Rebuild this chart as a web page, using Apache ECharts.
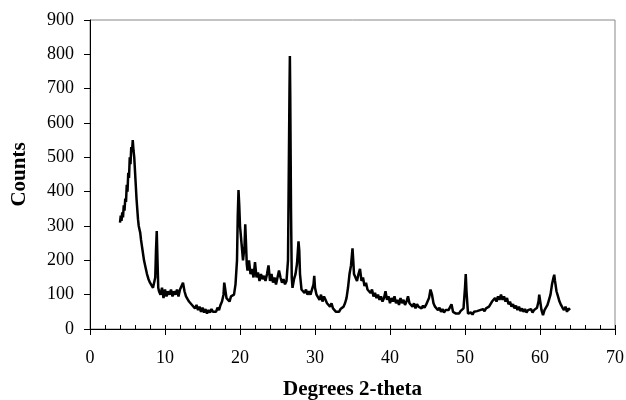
<!DOCTYPE html>
<html>
<head>
<meta charset="utf-8">
<script src="https://cdn.jsdelivr.net/npm/echarts@6/dist/echarts.min.js"></script>
<style>html,body{margin:0;padding:0;background:#fff;}#c{width:626px;height:400px;}</style>
</head>
<body>
<div id="c"></div>
<script>
const xLabelTicks = [0,10,20,30,40,50,60,70];
const yLabelTicks = [0,100,200,300,400,500,600,700,800,900];
const twoTheta = [4.0,4.1,4.2,4.3,4.4,4.5,4.6,4.7,4.8,4.9,5.0,5.1,5.2,5.3,5.4,5.5,5.6,5.7,5.8,5.9,6.0,6.1,6.2,6.3,6.4,6.5,6.6,6.7,6.8,6.9,7.0,7.2,7.4,7.6,7.8,8.0,8.2,8.4,8.6,8.7,8.8,8.9,9.0,9.1,9.2,9.4,9.6,9.8,10.0,10.2,10.4,10.6,10.8,11.0,11.2,11.4,11.6,11.8,12.0,12.2,12.4,12.6,12.8,13.0,13.2,13.4,13.6,13.8,14.0,14.2,14.4,14.6,14.8,15.0,15.2,15.4,15.6,15.8,16.0,16.2,16.4,16.6,16.8,17.0,17.2,17.4,17.6,17.8,17.9,18.0,18.2,18.4,18.6,18.8,19.0,19.2,19.4,19.6,19.7,19.8,19.9,20.0,20.2,20.4,20.6,20.7,20.8,20.9,21.0,21.2,21.4,21.6,21.8,22.0,22.2,22.4,22.6,22.8,23.0,23.2,23.4,23.6,23.8,24.0,24.2,24.4,24.6,24.8,25.0,25.2,25.4,25.6,25.8,26.0,26.2,26.4,26.5,26.6,26.65,26.7,26.8,26.9,27.0,27.2,27.4,27.6,27.8,27.9,28.0,28.2,28.4,28.6,28.8,29.0,29.2,29.4,29.6,29.8,29.9,30.0,30.2,30.4,30.6,30.8,31.0,31.2,31.4,31.6,31.8,32.0,32.2,32.4,32.6,32.8,33.0,33.2,33.4,33.6,33.8,34.0,34.2,34.4,34.6,34.8,34.9,35.0,35.1,35.2,35.4,35.6,35.8,36.0,36.2,36.4,36.6,36.8,37.0,37.2,37.4,37.6,37.8,38.0,38.2,38.4,38.6,38.8,39.0,39.2,39.4,39.6,39.8,40.0,40.2,40.4,40.6,40.8,41.0,41.2,41.4,41.6,41.8,42.0,42.2,42.4,42.6,42.8,43.0,43.2,43.4,43.6,43.8,44.0,44.2,44.4,44.6,44.8,45.0,45.2,45.4,45.5,45.6,45.8,46.0,46.2,46.4,46.6,46.8,47.0,47.2,47.4,47.6,47.8,48.0,48.2,48.4,48.6,48.8,49.0,49.2,49.4,49.6,49.8,50.0,50.1,50.2,50.4,50.6,50.8,51.0,51.2,51.4,51.6,51.8,52.0,52.2,52.4,52.6,52.8,53.0,53.2,53.4,53.6,53.8,54.0,54.2,54.4,54.6,54.8,55.0,55.2,55.4,55.6,55.8,56.0,56.2,56.4,56.6,56.8,57.0,57.2,57.4,57.6,57.8,58.0,58.2,58.4,58.6,58.8,59.0,59.2,59.4,59.6,59.8,59.9,60.0,60.2,60.4,60.6,60.8,61.0,61.2,61.4,61.6,61.8,61.9,62.0,62.2,62.4,62.6,62.8,63.0,63.2,63.4,63.6,63.8,64.0];
const counts = [310,330,315,340,325,360,345,380,370,420,400,455,440,500,480,530,515,550,520,500,460,420,380,350,320,300,290,280,260,245,230,200,180,160,145,135,130,120,125,150,230,285,200,120,110,100,120,90,115,95,110,100,115,95,110,100,115,95,115,110,135,110,95,90,80,85,70,75,60,70,55,65,50,62,48,58,45,55,48,58,50,55,50,62,55,70,80,100,135,120,90,95,80,95,90,100,130,200,330,405,360,300,250,200,240,305,250,190,170,200,160,175,150,195,150,165,140,160,145,155,140,160,185,140,160,135,150,130,150,170,150,135,145,130,140,200,450,700,795,680,350,150,120,145,160,190,255,230,160,115,120,105,115,100,110,100,105,130,155,120,100,105,85,100,80,95,85,75,80,65,75,60,55,50,55,50,58,55,65,75,90,120,160,185,210,235,200,160,165,140,160,175,140,150,125,135,115,120,105,115,95,105,90,100,85,95,80,90,110,85,95,75,90,80,95,75,85,70,90,75,85,70,80,95,75,80,65,75,60,72,65,70,60,68,62,70,75,90,115,120,100,75,65,60,55,62,50,58,48,55,50,55,60,72,50,55,45,50,45,52,48,60,120,160,110,45,40,48,42,50,45,52,48,55,50,58,52,60,58,65,70,80,75,90,80,95,85,100,85,95,80,90,72,80,65,72,60,68,55,65,52,60,50,58,48,55,50,58,48,55,52,62,80,100,85,55,40,55,60,70,85,100,130,150,158,140,110,95,80,70,62,55,65,50,60,55];
const seriesData = twoTheta.map((x, i) => [x, counts[i]]);
const chart = echarts.init(document.getElementById('c'), null, {renderer: 'canvas'});
const serif = 'Liberation Serif, Times New Roman, serif';
chart.setOption({
  animation: false,
  backgroundColor: '#fff',
  grid: {left: 90, right: 11, top: 20, bottom: 71, show: true, borderColor: '#888', borderWidth: 1, containLabel: false, outerBoundsMode: 'none'},
  xAxis: [{
    type: 'value', min: 0, max: 70, interval: 10,
    name: 'Degrees 2-theta', nameLocation: 'middle', nameGap: 50,
    nameTextStyle: {fontFamily: serif, fontWeight: 'bold', fontSize: 21, color: '#000'},
    axisLine: {show: true, lineStyle: {color: '#000', width: 1}},
    axisTick: {show: true, length: 6, lineStyle: {color: '#000'}},
    axisLabel: {fontFamily: serif, fontSize: 18, color: '#000', margin: 20},
    splitLine: {show: false}
  }, {
    type: 'value', min: 0, max: 70, interval: 2, position: 'bottom',
    axisLine: {show: false},
    axisTick: {show: true, inside: true, length: 4, lineStyle: {color: '#000'}},
    axisLabel: {show: false},
    splitLine: {show: false}
  }],
  yAxis: {
    type: 'value', min: 0, max: 900, interval: 100,
    name: 'Counts', nameLocation: 'middle', nameGap: 60, nameRotate: 90,
    nameTextStyle: {fontFamily: serif, fontWeight: 'bold', fontSize: 21, color: '#000'},
    axisLine: {show: true, lineStyle: {color: '#000', width: 1}},
    axisTick: {show: true, length: 6, lineStyle: {color: '#000'}},
    axisLabel: {fontFamily: serif, fontSize: 18, color: '#000', margin: 16},
    splitLine: {show: false}
  },
  series: [{
    type: 'line', data: seriesData, xAxisIndex: 0, showSymbol: false, symbol: 'none',
    lineStyle: {color: '#000', width: 2.5}, z: 3
  }]
});
</script>
</body>
</html>
